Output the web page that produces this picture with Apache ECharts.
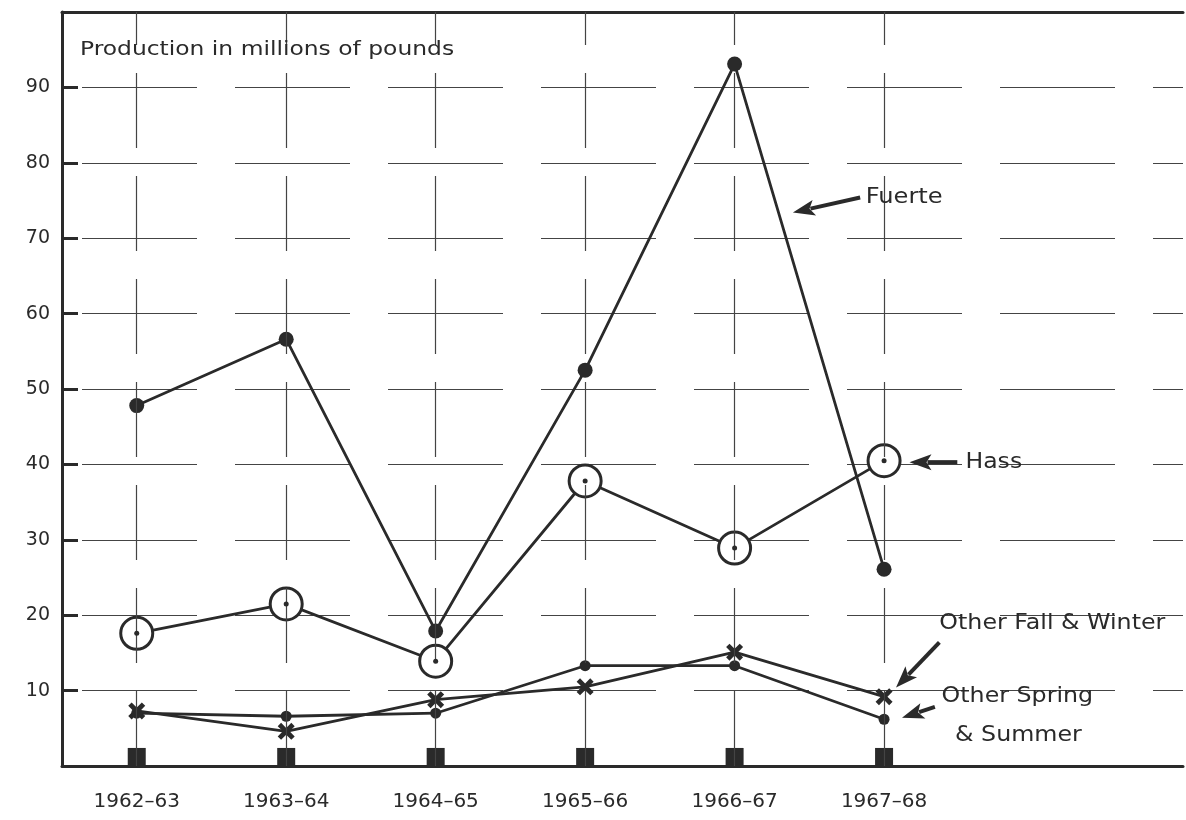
<!DOCTYPE html>
<html>
<head>
<meta charset="utf-8">
<script src="https://cdn.jsdelivr.net/npm/echarts@6/dist/echarts.min.js"></script>
<style>html,body{margin:0;padding:0;background:#fff;}#c{width:1186px;height:820px;}</style>
</head>
<body>
<div id="c"></div>
<script>
const categories = ['1962–63','1963–64','1964–65','1965–66','1966–67','1967–68'];
const fuerte = [47.8, 56.6, 17.9, 52.5, 93.1, 26.1];
const hass = [17.6, 21.5, 13.9, 37.8, 28.9, 40.5];
const otherFallWinter = [7.3, 4.6, 8.8, 10.5, 15.1, 9.2];
const otherSpringSummer = [7.0, 6.6, 7.0, 13.3, 13.3, 6.2];
const baseMarks = [1.2, 1.2, 1.2, 1.2, 1.2, 1.2];
const yTicks = [10, 20, 30, 40, 50, 60, 70, 80, 90];

const INK = '#2a2a2a';
const FONT = '"DejaVu Sans"';
const pts = arr => arr.map((v, i) => [i, v]);

// annotation texts and arrows in data coordinates
const notes = [
  {text: 'Production in millions of pounds', at: [-0.38, 95.0], size: 20, sx: 1.17},
  {text: 'Fuerte', at: [4.877, 75.4], size: 21, sx: 1.15},
  {text: 'Hass', at: [5.545, 40.3], size: 21, sx: 1.12},
  {text: 'Other Fall & Winter', at: [5.37, 18.84], size: 21, sx: 1.13},
  {text: 'Other Spring', at: [5.385, 9.15], size: 21, sx: 1.13},
  {text: '& Summer', at: [5.475, 3.98], size: 21, sx: 1.13}
];
const arrows = [
  {from: [4.84, 75.4], to: [4.39, 73.4]},
  {from: [5.49, 40.3], to: [5.17, 40.3]},
  {from: [5.37, 16.4], to: [5.08, 10.4]},
  {from: [5.34, 7.85], to: [5.12, 6.4]}
];

const xSym = 'path://M2,0 L5,3 L8,0 L10,2 L7,5 L10,8 L8,10 L5,7 L2,10 L0,8 L3,5 L0,2 Z';

const chart = echarts.init(document.getElementById('c'));
const option = {
  animation: false,
  backgroundColor: '#fff',
  grid: {left: 62, right: 0, top: 12, bottom: 54, containLabel: false},
  xAxis: [{
    type: 'value', min: -0.5, max: 7, interval: 0.5,
    axisLine: {show: true, onZero: false, lineStyle: {color: INK, width: 3}},
    axisTick: {show: false},
    splitLine: {show: false},
    axisLabel: {
      margin: 26, color: INK, fontFamily: FONT, fontSize: 20,
      formatter: v => (Number.isInteger(v) && categories[v]) ? categories[v] : ''
    }
  }, {
    type: 'value', min: -0.5, max: 7, position: 'top',
    axisLine: {show: true, onZero: false, lineStyle: {color: INK, width: 3}},
    axisTick: {show: false}, axisLabel: {show: false}, splitLine: {show: false}
  }],
  yAxis: {
    type: 'value', min: 0, max: 100, interval: 10,
    axisLine: {show: true, onZero: false, lineStyle: {color: INK, width: 3}},
    axisTick: {show: true, inside: true, length: 16, lineStyle: {color: INK, width: 3}},
    axisLabel: {
      margin: 12, color: INK, fontFamily: FONT, fontSize: 19,
      formatter: v => yTicks.includes(v) ? String(v) : ''
    },
    splitLine: {show: true, lineStyle: {color: '#444', width: 1.2, type: [115, 38], dashOffset: -20}}
  },
  series: [
    {
      name: 'grid', type: 'line', data: [], silent: true,
      markLine: {
        silent: true, symbol: 'none', label: {show: false},
        lineStyle: {color: '#444', width: 1.2, type: [75, 28]},
        data: categories.map((c, i) => ({xAxis: i}))
      }
    },
    {
      name: 'Fuerte', type: 'line', data: pts(fuerte), z: 3,
      symbol: 'circle', symbolSize: 15,
      lineStyle: {color: INK, width: 2.8},
      itemStyle: {color: INK}
    },
    {
      name: 'Hass', type: 'line', data: pts(hass), z: 4,
      symbol: 'circle', symbolSize: 32,
      lineStyle: {color: INK, width: 2.8},
      itemStyle: {color: '#fff', borderColor: INK, borderWidth: 3}
    },
    {
      name: 'Hass centre', type: 'scatter', data: pts(hass), z: 5, silent: true,
      symbol: 'circle', symbolSize: 5, itemStyle: {color: INK, opacity: 1}
    },
    {
      name: 'Other Fall & Winter', type: 'line', data: pts(otherFallWinter), z: 3,
      symbol: xSym, symbolSize: 17,
      lineStyle: {color: INK, width: 2.8},
      itemStyle: {color: INK}
    },
    {
      name: 'Other Spring & Summer', type: 'line', data: pts(otherSpringSummer), z: 3,
      symbol: 'circle', symbolSize: 11,
      lineStyle: {color: INK, width: 2.8},
      itemStyle: {color: INK}
    },
    {
      name: 'base', type: 'scatter', data: pts(baseMarks), z: 3, silent: true,
      symbol: 'rect', symbolSize: [18, 18], itemStyle: {color: INK, opacity: 1}
    }
  ]
};
chart.setOption(option);

function buildGraphics() {
  const g = [];
  notes.forEach(n => {
    const p = chart.convertToPixel({gridIndex: 0}, n.at);
    g.push({type: 'text', x: p[0], y: p[1], scaleX: n.sx, z: 10,
      style: {text: n.text, fill: INK, font: n.size + 'px ' + FONT, textVerticalAlign: 'middle', textAlign: 'left'}});
  });
  arrows.forEach(a => {
    const s = chart.convertToPixel({gridIndex: 0}, a.from);
    const t = chart.convertToPixel({gridIndex: 0}, a.to);
    const dx = t[0] - s[0], dy = t[1] - s[1];
    const L = Math.hypot(dx, dy), ux = dx / L, uy = dy / L;
    const hl = 22, hw = 8;
    const bx = t[0] - ux * hl, by = t[1] - uy * hl;
    g.push({type: 'line', z: 10, shape: {x1: s[0], y1: s[1], x2: bx + ux * 4, y2: by + uy * 4},
      style: {stroke: INK, lineWidth: 4}});
    g.push({type: 'polygon', z: 10, shape: {points: [
      [t[0], t[1]], [bx - uy * hw, by + ux * hw], [bx + ux * 5, by + uy * 5], [bx + uy * hw, by - ux * hw]
    ]}, style: {fill: INK}});
  });
  return g;
}
chart.setOption({graphic: buildGraphics()});
</script>
</body>
</html>
